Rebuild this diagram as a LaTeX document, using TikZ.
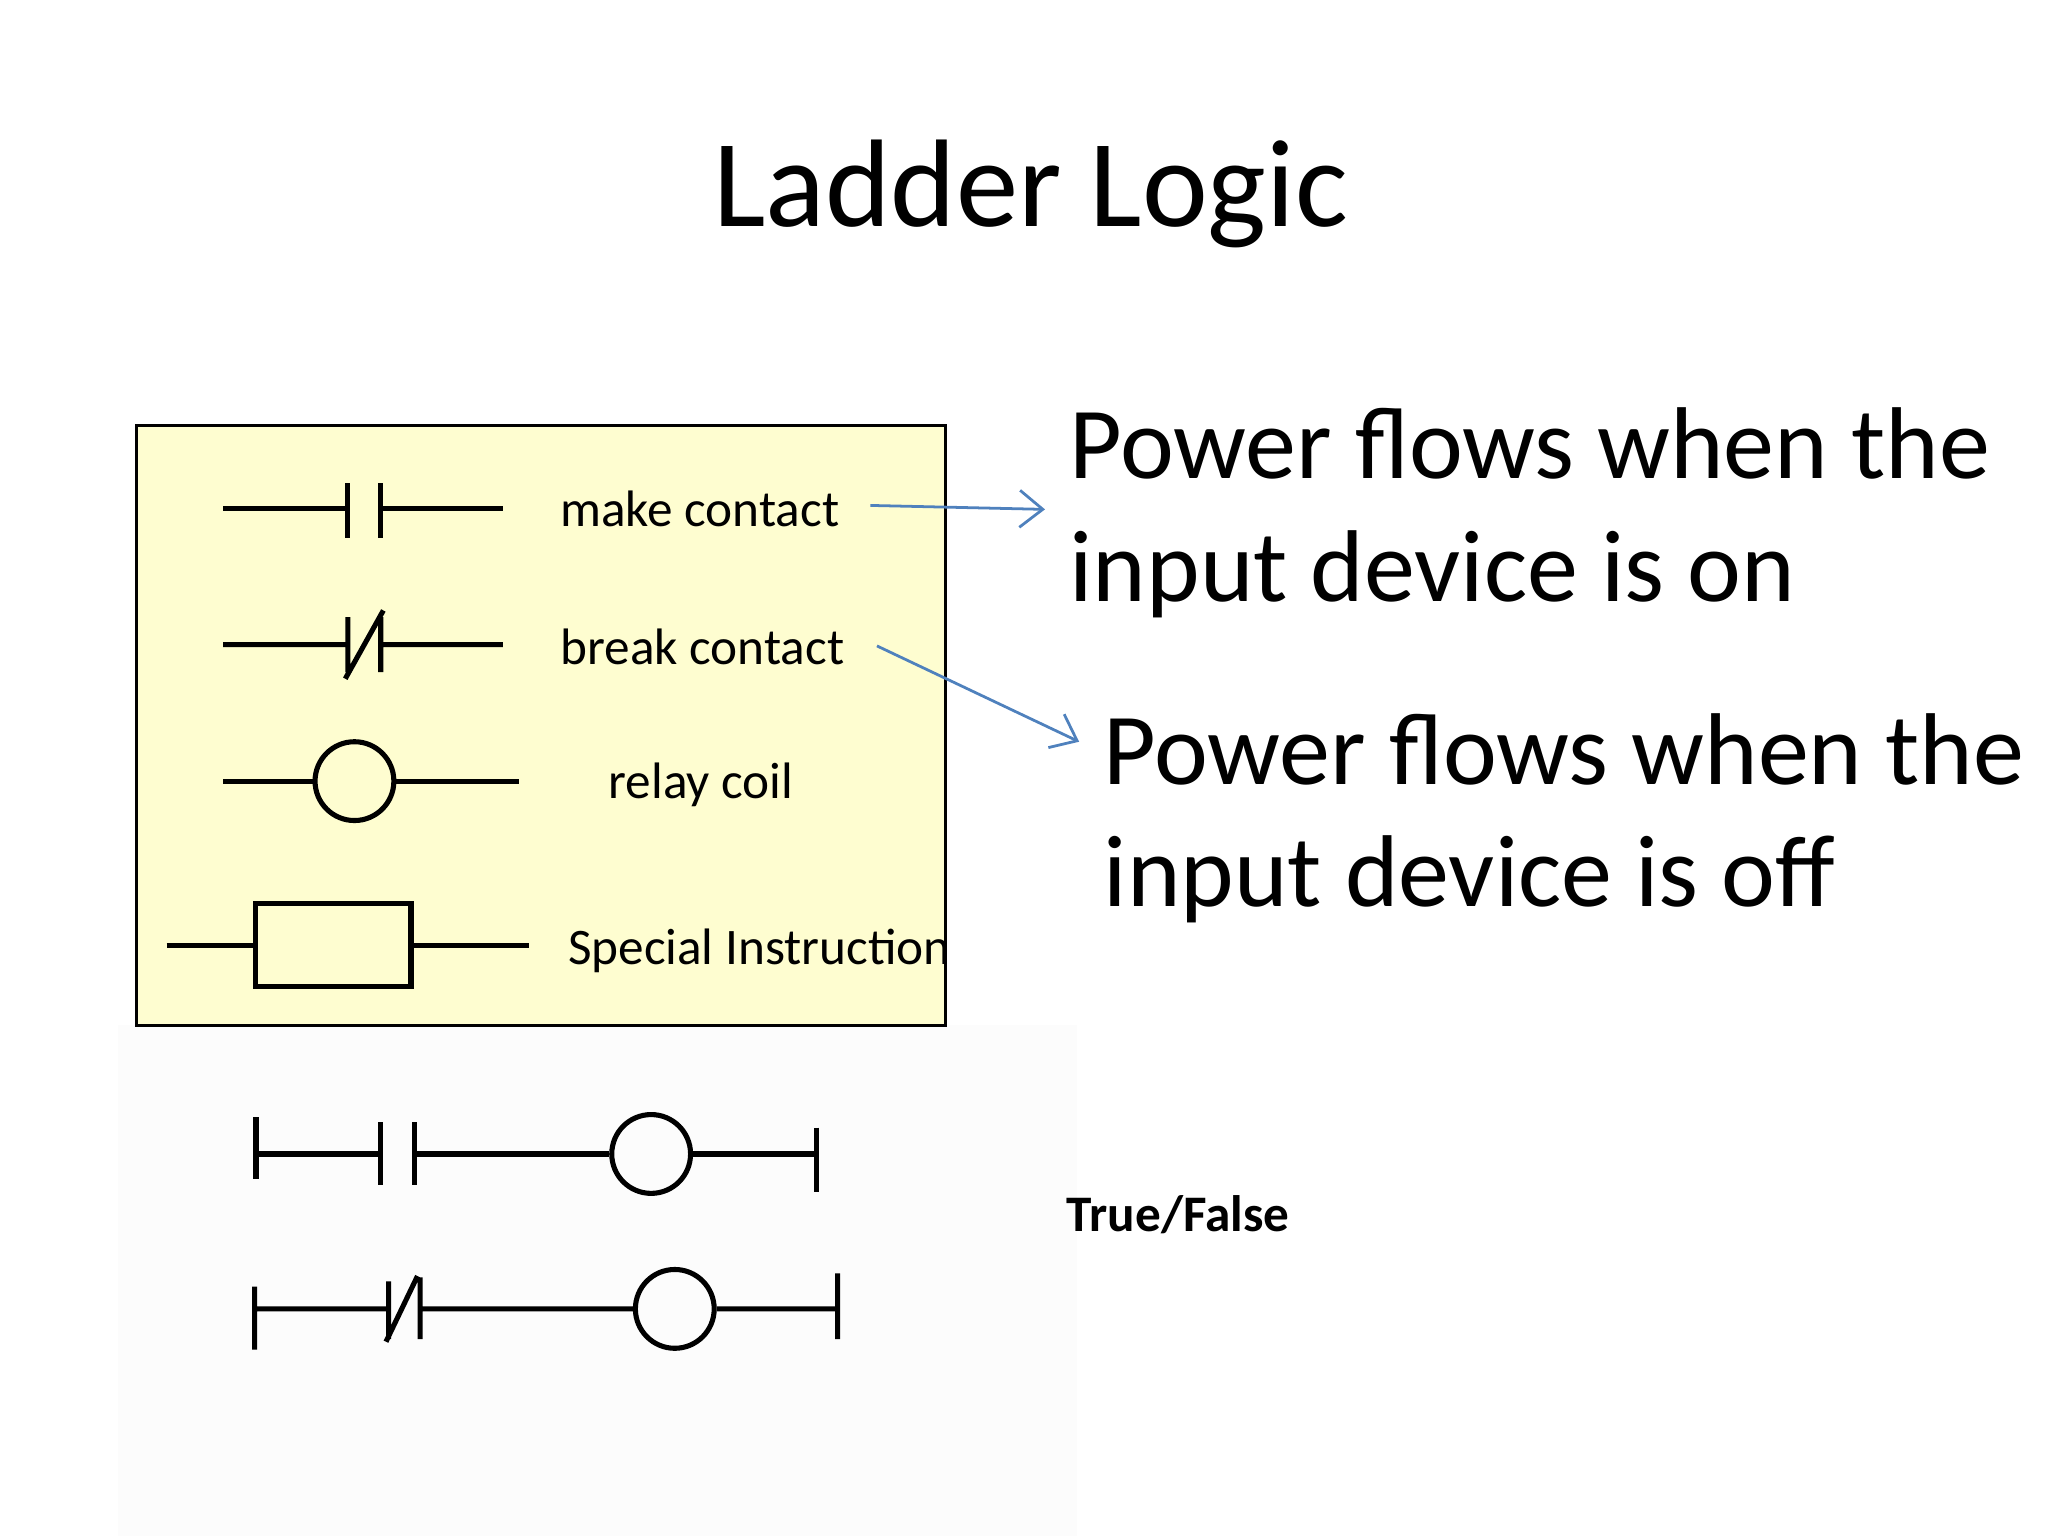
\documentclass[tikz,border=0pt]{standalone}
\usepackage{fontspec}
\setmainfont{Carlito}
\usetikzlibrary{arrows.meta}
\begin{document}
\begin{tikzpicture}[x=0.01cm,y=-0.01cm,
  w/.style={line width=1.1pt},
  lbl/.style={font=\fontsize{11.1}{13}\selectfont,inner sep=0pt},
  big/.style={font=\fontsize{22.1}{26.5}\selectfont,align=left,inner sep=0pt,anchor=north west},
  coil/.style={draw,circle,line width=1.1pt,minimum size=0.6cm,inner sep=0pt},
  arr/.style={draw={rgb,255:red,79;green,129;blue,189},line width=0.6pt,-{Straight Barb[length=5pt,width=8pt]}}]
\useasboundingbox (0,0) rectangle (1560,1170);
\fill[black!1] (90,781) rectangle (820,1170);
\draw[fill={rgb,255:red,254;green,253;blue,208},line width=0.6pt] (104,324) rectangle (720,781);
\node[font=\fontsize{27}{31}\selectfont] (title) at (785,148) {Ladder Logic};
% make contact
\draw[w] (170,387) -- (265,387) (265,368) -- (265,410) (290,368) -- (290,410) (290,387) -- (383,387);
\node[lbl] (mk) at (533,388) {make contact};
% break contact
\draw[w] (170,491) -- (265,491) (265,470) -- (265,512) (290,470) -- (290,512) (290,491) -- (383,491) (263,517) -- (292,465);
\node[lbl] (br) at (535,493) {break contact};
% relay coil
\node[coil] (c0) at (270,595) {};
\draw[w] (170,595) -- (c0.west) (c0.east) -- (395,595);
\node[lbl] (rc) at (534,598) {relay coil};
% special
\node[draw,w,minimum width=1.18cm,minimum height=0.63cm,inner sep=0pt] (sp) at (254,720) {};
\draw[w] (127,720) -- (sp.west) (sp.east) -- (403,720);
\node[lbl,anchor=west] (si) at (432,724) {Special Instruction};
% big texts
\node[big] (t1) at (814,310) {Power flows when the\\input device is on};
\node[big] (t2) at (840,543) {Power flows when the\\input device is off};
\coordinate (a1) at (663,385); \coordinate (a1e) at (796,388);
\coordinate (a2) at (668,492); \coordinate (a2e) at (822,565);
\draw[arr] (a1) -- (a1e);
\draw[arr] (a2) -- (a2e);
% rung 1
\node[coil] (c1) at (496,879) {};
\draw[w] (195,851) -- (195,898) (195,879) -- (290,879) (290,855) -- (290,903) (316,855) -- (316,903) (316,879) -- (c1.west) (c1.east) -- (622,879) (622,859) -- (622,908);
% rung 2
\node[coil] (c2) at (514,997) {};
\draw[w] (194,980) -- (194,1028) (194,997) -- (296,997) (296,976) -- (296,1020) (320,973) -- (320,1020) (320,997) -- (c2.west) (c2.east) -- (638,997) (638,970) -- (638,1020) (294,1022) -- (318,972);
\node[lbl,font=\fontsize{11.1}{13}\bfseries,anchor=west] (tf) at (812,925) {True/False};
\end{tikzpicture}
\end{document}
